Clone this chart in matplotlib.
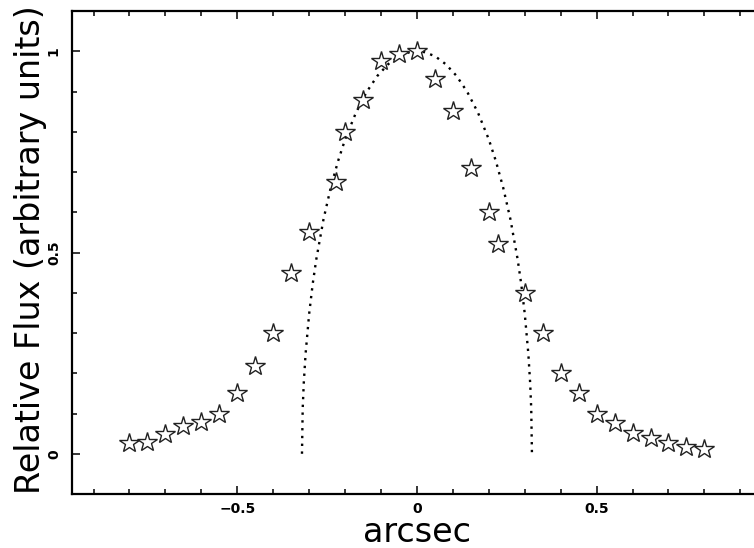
import matplotlib
matplotlib.use("Agg")
import matplotlib.pyplot as plt
from matplotlib.ticker import MultipleLocator, FixedLocator

# Measured profile (stars)
offset_arcsec = [-0.8, -0.75, -0.7, -0.65, -0.6, -0.55, -0.5, -0.45, -0.4, -0.35, -0.3,
                 -0.225, -0.2, -0.15, -0.1, -0.05, 0.0, 0.05, 0.1, 0.15, 0.2, 0.225,
                 0.3, 0.35, 0.4, 0.45, 0.5, 0.55, 0.6, 0.65, 0.7, 0.75, 0.8]
rel_flux = [0.026, 0.029, 0.050, 0.069, 0.080, 0.100, 0.150, 0.218, 0.300, 0.450, 0.550,
            0.676, 0.800, 0.880, 0.975, 0.993, 1.000, 0.931, 0.851, 0.711, 0.600, 0.521,
            0.400, 0.300, 0.200, 0.150, 0.100, 0.076, 0.051, 0.040, 0.026, 0.017, 0.011]

# Model curve (dotted)
model_x = [-0.32, -0.318, -0.315, -0.31, -0.30, -0.29, -0.28, -0.26, -0.24, -0.22, -0.20,
           -0.17, -0.14, -0.11, -0.08, -0.05, -0.02, 0.0, 0.02, 0.05, 0.08, 0.11, 0.14,
           0.17, 0.20, 0.22, 0.24, 0.26, 0.28, 0.29, 0.30, 0.31, 0.315, 0.318, 0.32]
model_y = [0.0, 0.112, 0.176, 0.248, 0.348, 0.423, 0.484, 0.583, 0.661, 0.726, 0.781,
           0.847, 0.899, 0.939, 0.968, 0.988, 0.998, 1.0, 0.998, 0.988, 0.968, 0.939, 0.899,
           0.847, 0.781, 0.726, 0.661, 0.583, 0.484, 0.423, 0.348, 0.248, 0.176, 0.112, 0.0]

x_major = [-0.5, 0.0, 0.5]
x_labels = ["\u22120.5", "0", "0.5"]
y_major = [0.0, 0.5, 1.0]
y_labels = ["0", "0.5", "1"]

plt.rcParams['font.family'] = ['DejaVu Sans']

fig = plt.figure(figsize=(7.54, 5.48), dpi=100)
ax = fig.add_axes([0.0955, 0.0985, 0.915, 0.8814])

ax.plot(model_x, model_y, color='black', linestyle=(0, (1, 2.3)), linewidth=1.7,
        dash_capstyle='butt')
ax.plot(offset_arcsec, rel_flux, linestyle='none', marker='*', markersize=14.5,
        markerfacecolor='white', markeredgecolor='#222222', markeredgewidth=1.0)

ax.set_xlim(-0.96, 0.96)
ax.set_ylim(-0.1, 1.1)

ax.xaxis.set_major_locator(FixedLocator(x_major))
ax.set_xticklabels(x_labels)
ax.xaxis.set_minor_locator(MultipleLocator(0.1))
ax.yaxis.set_major_locator(FixedLocator(y_major))
ax.set_yticklabels(y_labels)
ax.yaxis.set_minor_locator(MultipleLocator(0.1))

ax.tick_params(which='both', direction='in', top=True, right=True, width=1.1, color='black')
ax.tick_params(which='major', length=6)
ax.tick_params(which='minor', length=3.5)
ax.tick_params(axis='x', which='major', pad=6, labelsize=10)
ax.tick_params(axis='y', which='major', pad=8, labelsize=10)
for lab in ax.get_xticklabels():
    lab.set_fontweight('bold')
for lab in ax.get_yticklabels():
    lab.set_fontweight('bold')
    lab.set_rotation(90)
    lab.set_va('center')
    lab.set_ha('right')

for sp in ax.spines.values():
    sp.set_linewidth(1.6)

ax.set_xlabel('arcsec', fontsize=24)
ax.set_ylabel('Relative Flux (arbitrary units)', fontsize=24)
ax.xaxis.set_label_coords(0.5, -0.045)
ax.yaxis.set_label_coords(-0.036, 0.505)

fig.savefig('out.png', dpi=100)
